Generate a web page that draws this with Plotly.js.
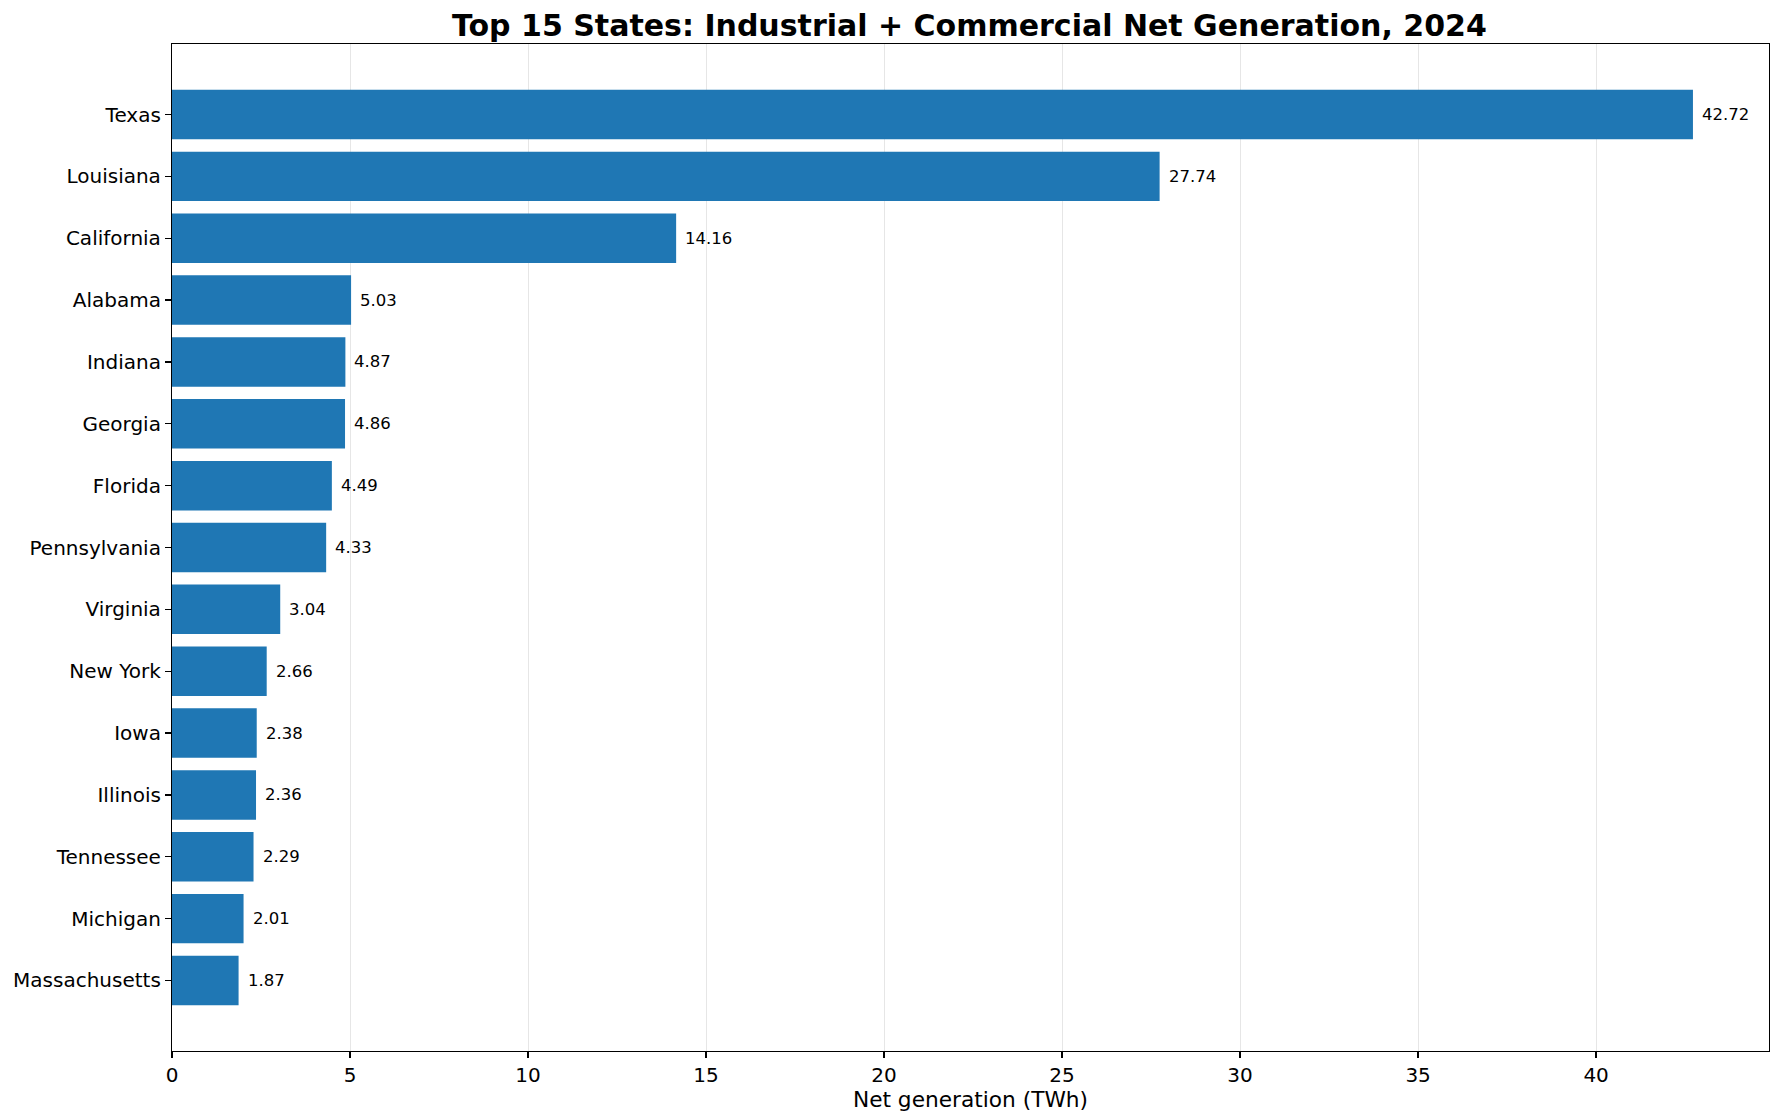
<!DOCTYPE html>
<html>
<head>
<meta charset="utf-8">
<script src="https://cdn.plot.ly/plotly-3.0.1.min.js"></script>
<style>
  html, body { margin: 0; padding: 0; background: #ffffff; }
  #chart { width: 1780px; height: 1120px; }
</style>
</head>
<body>
<div id="chart"></div>
<script>
// Top 15 states, industrial + commercial net generation (TWh), 2024
const states = [
    'Texas', 'Louisiana', 'California', 'Alabama', 'Indiana',
    'Georgia', 'Florida', 'Pennsylvania', 'Virginia', 'New York',
    'Iowa', 'Illinois', 'Tennessee', 'Michigan', 'Massachusetts'
];
const netGenTWh = [
    42.72, 27.74, 14.16, 5.03, 4.87,
    4.86, 4.49, 4.33, 3.04, 2.66,
    2.38, 2.36, 2.29, 2.01, 1.87
];
const xTicks = [0, 5, 10, 15, 20, 25, 30, 35, 40];

const COLORS = {
    BAR: '#1f77b4',
    TEXT: '#000000',
    GRID: '#e6e6e6',
    WHITE: '#ffffff'
};
const FONT = 'DejaVu Sans, Liberation Sans, sans-serif';

const trace = {
    type: 'bar',
    orientation: 'h',
    x: netGenTWh,
    y: states,
    width: 0.8,
    marker: { color: COLORS.BAR, line: { width: 0 } },
    hoverinfo: 'x+y'
};

// value labels just right of each bar end
const annotations = states.map((s, i) => ({
    x: netGenTWh[i],
    y: s,
    xref: 'x',
    yref: 'y',
    text: netGenTWh[i].toFixed(2),
    showarrow: false,
    xanchor: 'left',
    yanchor: 'middle',
    xshift: 7,
    font: { family: FONT, size: 16.5, color: COLORS.TEXT }
}));

// matplotlib-style 5% margin on the x data range
const xMax = Math.max(...netGenTWh) * 1.05;

const layout = {
    width: 1780,
    height: 1120,
    margin: { l: 172, r: 11, t: 44, b: 69, pad: 0 },
    paper_bgcolor: COLORS.WHITE,
    plot_bgcolor: COLORS.WHITE,
    font: { family: FONT, color: COLORS.TEXT },
    showlegend: false,
    bargap: 0.2,
    title: {
        text: '<b>Top 15 States: Industrial + Commercial Net Generation, 2024</b>',
        font: { family: FONT, size: 30, color: COLORS.TEXT },
        x: 0.5446,
        xanchor: 'center',
        y: 1 - 25 / 1120,
        yanchor: 'middle'
    },
    xaxis: {
        range: [0, xMax],
        tickvals: xTicks,
        ticktext: xTicks.map(String),
        showgrid: true,
        gridcolor: COLORS.GRID,
        gridwidth: 1,
        zeroline: false,
        showline: true,
        mirror: true,
        linecolor: COLORS.TEXT,
        linewidth: 1.3,
        ticks: 'outside',
        ticklen: 5.8,
        tickwidth: 1.3,
        tickcolor: COLORS.TEXT,
        tickfont: { family: FONT, size: 20, color: COLORS.TEXT },
        title: {
            text: 'Net generation (TWh)',
            font: { family: FONT, size: 21.7, color: COLORS.TEXT },
            standoff: 4
        },
        automargin: false
    },
    yaxis: {
        type: 'category',
        categoryorder: 'array',
        categoryarray: states,
        range: [states.length - 1 + 1.14, -1.14],
        showgrid: false,
        zeroline: false,
        showline: true,
        mirror: true,
        linecolor: COLORS.TEXT,
        linewidth: 1.3,
        ticks: 'outside',
        ticklen: 5.8,
        tickwidth: 1.3,
        tickcolor: COLORS.TEXT,
        tickfont: { family: FONT, size: 20, color: COLORS.TEXT },
        automargin: false
    },
    annotations: annotations
};

Plotly.newPlot('chart', [trace], layout, {
    responsive: false,
    displayModeBar: false,
    displaylogo: false,
    staticPlot: true
});
</script>
</body>
</html>
